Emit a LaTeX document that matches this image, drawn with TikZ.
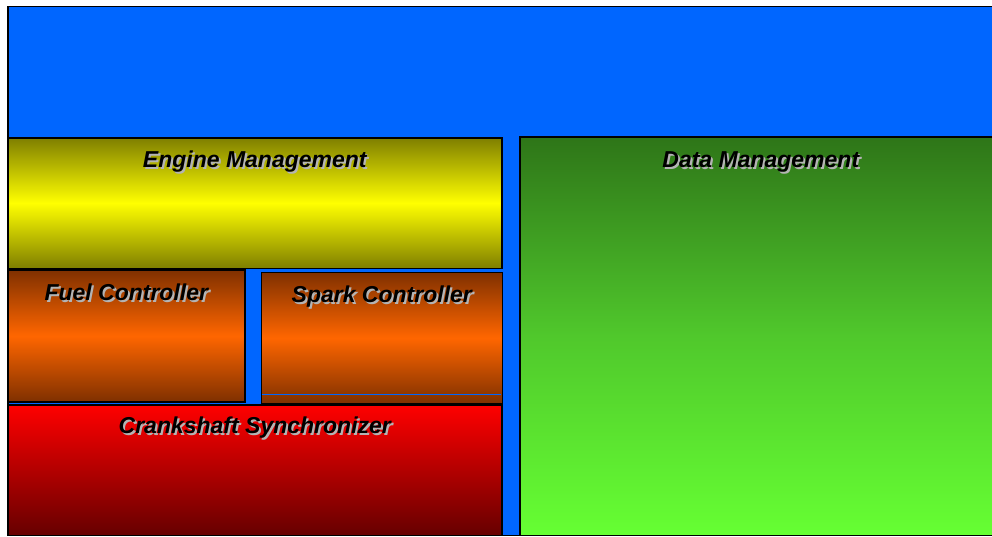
\documentclass[tikz,border=0pt]{standalone}
\usepackage{fontspec}
\setmainfont{Liberation Sans}
\definecolor{bgblue}{HTML}{0066FF}
\definecolor{olivec}{HTML}{7F7F00}
\definecolor{yel}{HTML}{FFFF00}
\definecolor{brownc}{HTML}{7F3000}
\definecolor{orangec}{HTML}{FF6600}
\definecolor{redtop}{HTML}{FF0000}
\definecolor{redbot}{HTML}{660000}
\definecolor{greentop}{HTML}{2E7518}
\definecolor{greenmid}{HTML}{50C82C}
\definecolor{greenbot}{HTML}{66FF33}
\definecolor{shadowc}{HTML}{B4B4B4}
\begin{document}
\begin{tikzpicture}[x=1pt,y=-1pt,
  box/.style={draw=black, line width=1.6pt, rectangle, inner sep=0pt, anchor=north west},
  lbl/.style={font=\fontsize{23}{27}\selectfont\bfseries\itshape, anchor=base, inner sep=0pt},
  shd/.style={lbl, text=shadowc}]
\useasboundingbox (0,0) rectangle (992,536);
\fill[white] (0,0) rectangle (992,536);
% outer
\node[box, fill=bgblue, minimum width=994pt, minimum height=529pt] (outer) at (7,5.5) {};
% engine
\node[box, top color=olivec, bottom color=olivec, middle color=yel, minimum width=494pt, minimum height=130.5pt] (eng) at (7,137) {};
% fuel
\node[box, top color=brownc, bottom color=brownc, middle color=orangec, minimum width=237pt, minimum height=132pt] (fuel) at (7,269) {};
% spark
\node[box, top color=brownc, bottom color=brownc, middle color=orangec, minimum width=241pt, minimum height=131pt] (spark) at (260.5,271.5) {};
\coordinate (sl1) at (261.5,394);
\coordinate (sl2) at (501,394);
\draw[bgblue, line width=0.8pt] (sl1) -- (sl2);
% crank
\node[box, top color=redtop, bottom color=redbot, minimum width=494pt, minimum height=130.5pt] (crank) at (7,404) {};
% data
\node[box, top color=greentop, bottom color=greenbot, middle color=greenmid, minimum width=482pt, minimum height=398.5pt] (data) at (519,136) {};
% labels
\foreach \n/\t/\d in {eng/Engine Management/30, data/Data Management/31, fuel/Fuel Controller/31, spark/Spark Controller/31, crank/Crankshaft Synchronizer/29}{
  \node[shd] at ([xshift=2pt,yshift=-\d pt-2pt]\n.north) {\t};
  \node[lbl] (\n txt) at ([yshift=-\d pt]\n.north) {\t};
}
\end{tikzpicture}
\end{document}
